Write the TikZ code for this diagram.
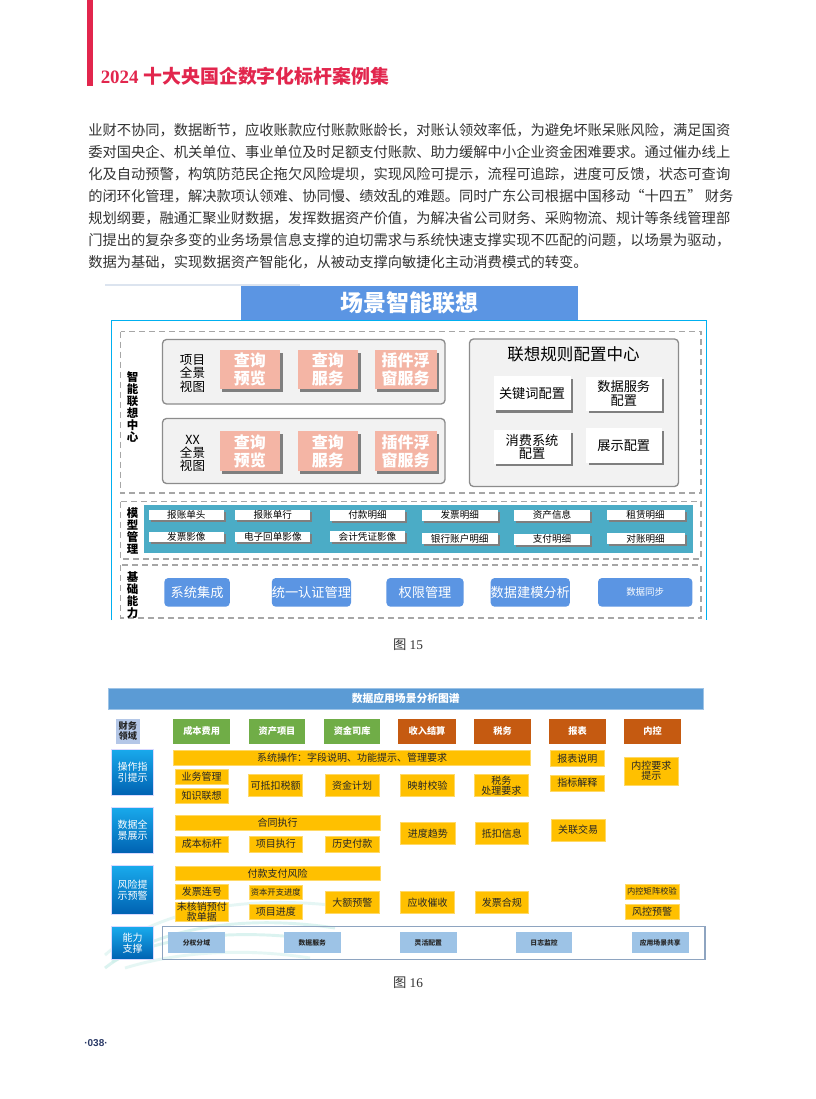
\documentclass[tikz,border=0pt]{standalone}
\usepackage{fontspec}
\setmainfont{Liberation Serif}
\newfontfamily\cjk{Noto Sans CJK SC}
\usetikzlibrary{shadows}

\definecolor{titlered}{HTML}{E2264D}
\definecolor{bodytext}{HTML}{333333}
\definecolor{barblue}{HTML}{5B95E3}
\definecolor{frameblue}{HTML}{00B0F0}
\definecolor{faintrule}{HTML}{DCE4EF}
\definecolor{dashgray}{HTML}{A6A6A6}
\definecolor{groupgray}{HTML}{F2F2F2}
\definecolor{groupline}{HTML}{8C8C8C}
\definecolor{salmon}{HTML}{F4B5A5}
\definecolor{shadowgray}{HTML}{7F7F7F}
\definecolor{bandteal}{HTML}{4BACC6}
\definecolor{mapblue}{HTML}{5B9BD5}
\definecolor{headgreen}{HTML}{70AD47}
\definecolor{headorange}{HTML}{C55A11}
\definecolor{domainblue}{HTML}{B4C7E7}
\definecolor{cellyellow}{HTML}{FFC000}
\definecolor{supportblue}{HTML}{9DC3E6}
\definecolor{supportline}{HTML}{8EA4C0}
\definecolor{sidetop}{HTML}{19AAEC}
\definecolor{sidebottom}{HTML}{0062B2}
\definecolor{swirlcyan}{HTML}{CDEFEA}
\definecolor{pagenavy}{HTML}{2B3A67}

% box given by its two corners (in px)
\def\cell[#1](#2)(#3,#4)(#5,#6)#7{\node[inner sep=0pt,align=center,#1,minimum width={(#5-#3)*0.75pt},minimum height={(#6-#4)*0.75pt}] (#2) at ({(#3+#5)/2},{(#4+#6)/2}) {#7};}

\tikzset{
  heading/.style={anchor=base west, inner sep=0pt, text=titlered, font=\bfseries\fontsize{14.2}{16}\selectfont},
  bodyline/.style={anchor=west, inner sep=0pt, text=bodytext, font=\cjk\fontsize{10.7}{12}\selectfont},
  caption/.style={inner sep=0pt, text=bodytext, font=\fontsize{10}{12}\selectfont},
  scenebar/.style={fill=barblue, text=white, font=\cjk\bfseries\fontsize{17.2}{19}\selectfont},
  dashbox/.style={draw=dashgray, line width=1.4pt, dash pattern=on 4.5pt off 3pt},
  groupbox/.style={draw=groupline, fill=groupgray, line width=1pt, rounded corners=3pt},
  solidshadow/.style={drop shadow={opacity=1, fill=shadowgray, shadow xshift=#1, shadow yshift=-#1}},
  pinkbox/.style={fill=salmon, text=white, solidshadow=2pt, font=\cjk\bfseries\fontsize{12}{13.5}\selectfont},
  rulebox/.style={fill=white, text=black, solidshadow=2pt, font=\cjk\fontsize{9.9}{10}\selectfont},
  viewlabel/.style={inner sep=0pt, align=center, font=\cjk\fontsize{9.4}{10}\selectfont},
  sidelabel/.style={inner sep=0pt, align=center, font=\cjk\bfseries\fontsize{8.6}{9}\selectfont},
  fieldbox/.style={fill=white, text=black, solidshadow=1.5pt, font=\cjk\fontsize{7.2}{8}\selectfont},
  basebtn/.style={fill=barblue, rounded corners=3pt, text=white, font=\cjk\fontsize{9.9}{11}\selectfont},
  mapbar/.style={fill=mapblue, draw=mapblue!60, line width=0.6pt, text=white, font=\cjk\bfseries\fontsize{8.1}{9}\selectfont},
  domainhead/.style={fill=domainblue, text=black!85, font=\cjk\bfseries\fontsize{6.9}{7.5}\selectfont},
  greenhead/.style={fill=headgreen, text=white, font=\cjk\bfseries\fontsize{6.9}{8}\selectfont},
  orangehead/.style={fill=headorange, text=white, font=\cjk\bfseries\fontsize{6.9}{8}\selectfont},
  sidehead/.style={top color=sidetop, bottom color=sidebottom, draw=white!85!blue, line width=0.5pt, text=white, font=\cjk\fontsize{7.5}{8.3}\selectfont},
  ycell/.style={fill=cellyellow, draw=cellyellow!60!white, line width=0.4pt, text=black!85, font=\cjk\fontsize{7.5}{7.5}\selectfont},
  ysmall/.style={ycell, font=\cjk\fontsize{6.2}{7}\selectfont},
  supportcell/.style={fill=supportblue, text=black!85, font=\cjk\bfseries\fontsize{5.1}{6}\selectfont},
  swirl/.style={draw=swirlcyan, line width=2.2pt, opacity=0.7}
}

\begin{document}
\begin{tikzpicture}[x=0.75pt,y=-0.75pt]
  \useasboundingbox (0,0) rectangle (816,1099);
  \fill[white] (0,0) rectangle (816,1099);

  %%%%% HEADING %%%%%
  \fill[titlered] (87,0) rectangle (93,86);
  \node[heading] (pagetitle) at (100.5,84) {2024 {\cjk 十大央国企数字化标杆案例集}};

  \node[bodyline] (body1) at (88,130) {业财不协同，数据断节，应收账款应付账款账龄长，对账认领效率低，为避免坏账呆账风险，满足国资};
  \node[bodyline] (body2) at (88,152) {委对国央企、机关单位、事业单位及时足额支付账款、助力缓解中小企业资金困难要求。通过催办线上};
  \node[bodyline] (body3) at (88,174) {化及自动预警，构筑防范民企拖欠风险堤坝，实现风险可提示，流程可追踪，进度可反馈，状态可查询};
  \node[bodyline] (body4) at (88,196) {的闭环化管理，解决款项认领难、协同慢、绩效乱的难题。同时广东公司根据中国移动“十四五” 财务};
  \node[bodyline] (body5) at (88,218) {规划纲要，融通汇聚业财数据，发挥数据资产价值，为解决省公司财务、采购物流、规计等条线管理部};
  \node[bodyline] (body6) at (88,240) {门提出的复杂多变的业务场景信息支撑的迫切需求与系统快速支撑实现不匹配的问题，以场景为驱动，};
  \node[bodyline] (body7) at (88,262) {数据为基础，实现数据资产智能化，从被动支撑向敏捷化主动消费模式的转变。};

  %%%%% FIGURE 15 %%%%%
  \draw[faintrule, line width=1.5pt] (105,285) -- (300,285);
  \cell[scenebar](scenetitle)(241,286)(578,320){场景智能联想}
  \draw[frameblue, line width=1.1pt] (111.5,620) -- (111.5,320.5) -- (706.5,320.5) -- (706.5,620);

  % smart association centre
  \draw[dashbox] (120.5,331.5) rectangle (701,493);
  \node[sidelabel] (centerlabel) at (132.5,407) {智\\能\\联\\想\\中\\心};

  \cell[groupbox](viewone)(162.5,339.5)(445,404){}
  \node[viewlabel] (viewonelabel) at (192.5,373.5) {项目\\全景\\视图};
  \cell[pinkbox](previewone)(219.5,350)(280,389){查询\\预览}
  \cell[pinkbox](serviceone)(297.5,350)(358,389){查询\\服务}
  \cell[pinkbox](pluginone)(374.5,350)(436.5,389){插件浮\\窗服务}

  \cell[groupbox](viewtwo)(162.5,418.5)(445,483.5){}
  \node[viewlabel] (viewtwolabel) at (192.5,453.5) {XX\\全景\\视图};
  \cell[pinkbox](previewtwo)(219.5,431)(280,471){查询\\预览}
  \cell[pinkbox](servicetwo)(297.5,431)(358,471){查询\\服务}
  \cell[pinkbox](plugintwo)(374.5,431)(436.5,471){插件浮\\窗服务}

  \cell[groupbox](rulecenter)(469.5,339)(678.5,486.5){}
  \node[inner sep=0pt, font=\cjk\fontsize{12.4}{14}\selectfont] (ruletitle) at (573.5,354) {联想规则配置中心};
  \cell[rulebox](keywordcfg)(493.5,376)(570.5,410){关键词配置}
  \cell[rulebox](datasvccfg)(586,376.5)(661.5,410.5){数据服务\\配置}
  \cell[rulebox](consumercfg)(493.5,430)(570.5,463.5){消费系统\\配置}
  \cell[rulebox](displaycfg)(586,428)(661.5,462.5){展示配置}

  % model management
  \draw[dashbox] (120.5,501.5) rectangle (701,559);
  \node[sidelabel] (modellabel) at (132.5,531) {模\\型\\管\\理};
  \fill[bandteal] (143.5,505) rectangle (693,553);
  \cell[fieldbox](claimhead)(148.7,509.5)(224,520){报账单头}
  \cell[fieldbox](claimline)(235.2,509.5)(310.4,520){报账单行}
  \cell[fieldbox](paydetail)(330,510)(405,520.5){付款明细}
  \cell[fieldbox](invdetail)(422,510)(497.5,520.5){发票明细}
  \cell[fieldbox](assetinfo)(514,510)(590,520.5){资产信息}
  \cell[fieldbox](leasedetail)(606.6,509.5)(684.6,520){租赁明细}
  \cell[fieldbox](invimage)(148.7,531.7)(224,542.2){发票影像}
  \cell[fieldbox](receiptimage)(235.2,531.5)(310.4,542){电子回单影像}
  \cell[fieldbox](voucherimage)(330,531.2)(405,541.7){会计凭证影像}
  \cell[fieldbox](bankdetail)(422,533.3)(497.5,543.8){银行账户明细}
  \cell[fieldbox](paymentdetail)(514,534)(590,544.5){支付明细}
  \cell[fieldbox](recondetail)(606.6,533.3)(684.6,543.8){对账明细}

  % base capability
  \draw[dashbox] (120.5,565) rectangle (701,618);
  \node[sidelabel] (baselabel) at (132.5,594.8) {基\\础\\能\\力};
  \cell[basebtn](sysint)(164.3,578)(229.8,606.7){系统集成}
  \cell[basebtn](unifiedauth)(272.6,578)(350.2,606.7){统一认证管理}
  \cell[basebtn](permission)(386.4,578)(463.6,606.7){权限管理}
  \cell[basebtn](modeling)(490.9,578)(569.6,606.7){数据建模分析}
  \cell[basebtn, font=\cjk\fontsize{7.1}{8}\selectfont](datasync)(598,578)(692.4,606.7){数据同步}

  \node[caption] (figfifteen) at (408,645) {{\cjk 图} 15};

  %%%%% FIGURE 16 %%%%%
  \draw[swirl] (105,968) .. controls (160,925) and (250,915) .. (335,928);
  \draw[swirl] (112,962) .. controls (170,932) and (250,930) .. (320,940);
  \draw[swirl, opacity=0.5] (105,955) .. controls (150,915) and (230,895) .. (330,905);
  \draw[swirl, opacity=0.5] (125,968) .. controls (190,948) and (260,950) .. (310,958);

  \cell[mapbar](maptitle)(108.5,688.5)(703,709){数据应用场景分析图谱}

  \cell[domainhead](domain)(116,719)(139.5,743.5){财务\\领域}
  \cell[greenhead](costcol)(173.3,719)(230,743.5){成本费用}
  \cell[greenhead](assetcol)(249,719)(305,743.5){资产项目}
  \cell[greenhead](treasurycol)(324,719)(380.3,743.5){资金司库}
  \cell[orangehead](revenuecol)(398.3,719)(455.7,743.5){收入结算}
  \cell[orangehead](taxcol)(474.3,719)(530.7,743.5){税务}
  \cell[orangehead](reportcol)(549.3,719)(605.7,743.5){报表}
  \cell[orangehead](controlcol)(624.3,719)(681,743.5){内控}

  \cell[sidehead](guiderow)(111.7,749)(153.3,795){操作指\\引提示}
  \cell[sidehead](panoramarow)(111.7,807)(153.3,853){数据全\\景展示}
  \cell[sidehead](riskrow)(111.7,865.7)(153.3,914){风险提\\示预警}
  \cell[sidehead](supportrow)(111.7,926.7)(153.3,959.3){能力\\支撑}

  % operation guide
  \cell[ycell](sysop)(173.3,750)(530.7,765){系统操作：字段说明、功能提示、管理要求}
  \cell[ycell](bizmgmt)(175,769)(228.3,784){业务管理}
  \cell[ycell](knowledge)(175,788.3)(228.3,803.3){知识联想}
  \cell[ycell](deductible)(248.5,774.3)(302.5,796.7){可抵扣税额}
  \cell[ycell](fundplan)(325,774.3)(379,796.7){资金计划}
  \cell[ycell](mapcheck)(400.5,774.3)(454.5,796.7){映射校验}
  \cell[ycell](taxreq)(474.5,774.3)(528,796.7){税务\\处理要求}
  \cell[ycell](reportnote)(550.3,750.7)(604.3,766){报表说明}
  \cell[ycell](indicator)(550.3,775)(604.3,791){指标解释}
  \cell[ycell](controlreq)(624.5,757.3)(678,785){内控要求\\提示}

  % data panorama
  \cell[ycell](contract)(175,815.5)(380,830){合同执行}
  \cell[ycell](costbench)(175,836)(228.5,852){成本标杆}
  \cell[ycell](projexec)(249,836)(302.5,852){项目执行}
  \cell[ycell](histpay)(325.3,836)(379.4,852){历史付款}
  \cell[ycell](progress)(400.5,822.3)(455,844.3){进度趋势}
  \cell[ycell](deductinfo)(475,822.3)(528.7,844.3){抵扣信息}
  \cell[ycell](related)(551,819.3)(605,841){关联交易}

  % risk warning
  \cell[ycell](payrisk)(175,866)(380,880.7){付款支付风险}
  \cell[ycell](invoiceseq)(175,884.3)(228.5,899){发票连号}
  \cell[ycell, font=\cjk\fontsize{7.5}{7.6}\selectfont](prepaid)(175,904)(228.5,919.3){未核销预付\\款单据}
  \cell[ysmall](capex)(249,885)(302.5,899.3){资本开支进度}
  \cell[ycell](projprog)(249,904)(302.5,919.3){项目进度}
  \cell[ycell](largewarn)(325.3,891.7)(379.4,913.3){大额预警}
  \cell[ycell](collect)(400.5,891.7)(454.6,913.3){应收催收}
  \cell[ycell](invcomp)(475,891.7)(528.7,913.3){发票合规}
  \cell[ysmall](matrix)(625,884.3)(679,899.3){内控矩阵校验}
  \cell[ycell](riskwarn)(625,904)(679,919){风控预警}

  % capability support
  \draw[supportline, line width=0.8pt] (162.5,926.5) rectangle (705,959.3);
  \cell[supportcell](authdomain)(168.2,932.3)(224.7,953.3){分权分域}
  \cell[supportcell](datasvc)(284,932.3)(340.5,953.3){数据服务}
  \cell[supportcell](flexcfg)(400,932.3)(456.6,953.3){灵活配置}
  \cell[supportcell](logmon)(515.8,932.3)(572.3,953.3){日志监控}
  \cell[supportcell](sceneshare)(632,932.3)(688.5,953.3){应用场景共享}

  \node[caption] (figsixteen) at (408,983) {{\cjk 图} 16};

  \node[inner sep=0pt, text=pagenavy, font=\fontspec{Liberation Sans}\bfseries\fontsize{7.5}{9}\selectfont] (pageno) at (96,1043) {·038·};
\end{tikzpicture}
\end{document}
